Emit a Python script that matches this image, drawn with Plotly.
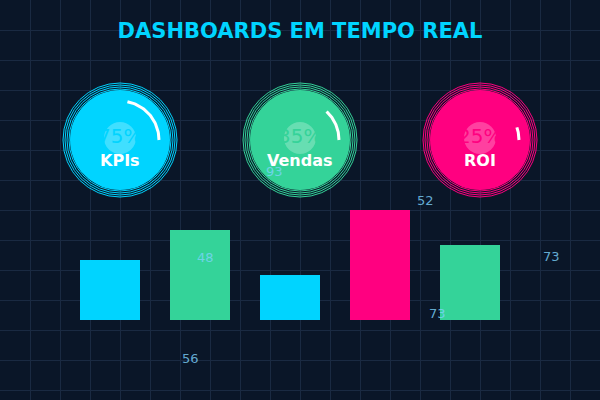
import numpy as np
import plotly.graph_objects as go

# Dados do painel
kpi_nomes = ["KPIs", "Vendas", "ROI"]
kpi_percentuais = ["75%", "35%", "25%"]
kpi_arco_graus = [79, 47, 19]
kpi_cores = ["#00d4ff", "#34d399", "#ff0080"]

barras_valores = [60, 90, 45, 110, 75]
barras_cores = ["#00d4ff", "#34d399", "#00d4ff", "#ff0080", "#34d399"]

rotulos_texto = ["93", "48", "56", "52", "73", "73"]

# Layout (em pixels da tela, eixo y para cima)
ALTURA = 400
kpi_cx = [120, 300, 480]
kpi_cy = ALTURA - 140
barras_x = [110, 200, 290, 380, 470]
barras_base = ALTURA - 320
rotulos_x = [274, 205, 190, 425, 437, 551]
rotulos_y = [ALTURA - v for v in [171, 257, 358, 200, 313, 256]]

FUNDO = "#0a1628"
GRADE = "#1a2a42"

fig = go.Figure()

fig.add_trace(
    go.Bar(
        x=barras_x,
        y=barras_valores,
        base=barras_base,
        width=60,
        marker_color=barras_cores,
        marker_line_width=0,
        hoverinfo="skip",
    )
)

shapes = []
annotations = []

for nome, pct, graus, cor, cx in zip(kpi_nomes, kpi_percentuais,
                                     kpi_arco_graus, kpi_cores, kpi_cx):
    # aneis externos
    for r in [51, 53, 55, 57]:
        shapes.append(dict(
            type="circle", xref="x", yref="y", layer="between",
            x0=cx - r, x1=cx + r, y0=kpi_cy - r, y1=kpi_cy + r,
            line=dict(color=cor, width=1), fillcolor="rgba(0,0,0,0)",
        ))
    # circulo principal
    shapes.append(dict(
        type="circle", xref="x", yref="y", layer="between",
        x0=cx - 50, x1=cx + 50, y0=kpi_cy - 50, y1=kpi_cy + 50,
        line_width=0, fillcolor=cor,
    ))
    # circulo interno claro
    shapes.append(dict(
        type="circle", xref="x", yref="y", layer="between",
        x0=cx - 16, x1=cx + 16, y0=kpi_cy + 2 - 16, y1=kpi_cy + 2 + 16,
        line_width=0, fillcolor="rgba(255,255,255,0.25)",
    ))

    # arco de progresso
    t = np.radians(np.linspace(0, graus, 40))
    fig.add_trace(
        go.Scatter(
            x=cx + 39 * np.cos(t),
            y=kpi_cy + 39 * np.sin(t),
            mode="lines",
            line=dict(color="white", width=3),
            hoverinfo="skip",
        )
    )

    annotations.append(dict(
        x=cx, y=kpi_cy + 4, xref="x", yref="y", text=pct,
        showarrow=False, font=dict(size=20, color=cor),
    ))
    annotations.append(dict(
        x=cx, y=kpi_cy - 20, xref="x", yref="y", text=f"<b>{nome}</b>",
        showarrow=False, font=dict(size=16, color="white"),
    ))

for txt, x, y in zip(rotulos_texto, rotulos_x, rotulos_y):
    annotations.append(dict(
        x=x, y=y, xref="x", yref="y", text=txt, showarrow=False,
        font=dict(size=13, color="rgba(125,211,252,0.8)"),
    ))

fig.update_xaxes(
    range=[0, 600], showgrid=True, gridcolor=GRADE, gridwidth=1,
    tick0=0, dtick=30, showticklabels=False, zeroline=False, ticks="",
    fixedrange=True,
)
fig.update_yaxes(
    range=[0, ALTURA], showgrid=True, gridcolor=GRADE, gridwidth=1,
    tick0=10, dtick=30, showticklabels=False, zeroline=False, ticks="",
    fixedrange=True,
)

fig.update_layout(
    width=600,
    height=400,
    autosize=False,
    margin=dict(l=0, r=0, t=0, b=0),
    paper_bgcolor=FUNDO,
    plot_bgcolor=FUNDO,
    font_family="DejaVu Sans",
    showlegend=False,
    hovermode=False,
    title=dict(
        text="<b>DASHBOARDS EM TEMPO REAL</b>",
        x=0.5, xanchor="center",
        y=1 - 31 / 400, yanchor="middle", yref="container",
        font=dict(size=21, color="#00d4ff"),
    ),
    shapes=shapes,
    annotations=annotations,
)

fig.write_html(
    "out.html",
    config={"displayModeBar": False},
    post_script="document.body.style.margin='0';"
                "document.body.style.background='" + FUNDO + "';",
)
